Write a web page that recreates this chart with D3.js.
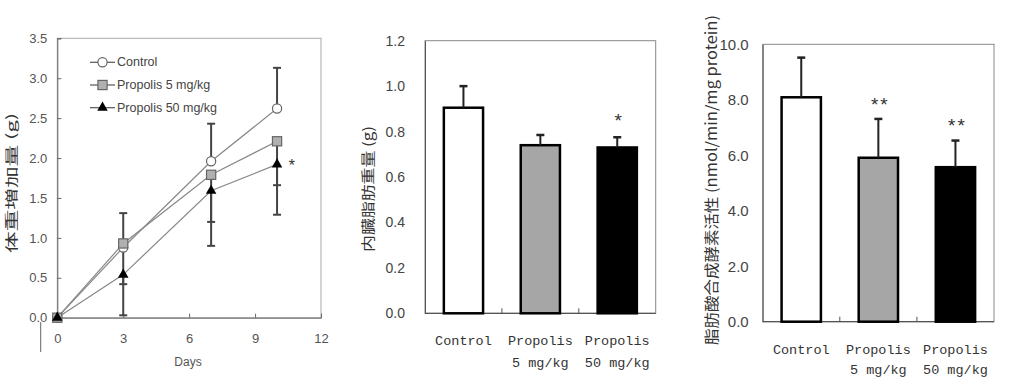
<!DOCTYPE html>
<html>
<head>
<meta charset="utf-8">
<script src="https://cdn.jsdelivr.net/npm/d3@7"></script>
<style>
  body { margin: 0; background: #fff; }
  svg { display: block; }
</style>
</head>
<body>
<svg id="chart" width="1024" height="379" viewBox="0 0 1024 379"></svg>
<script>
// Panel 1: body weight gain
const days = [0, 3, 7, 10];
const controlMean = [0, 0.88, 1.96, 2.62];
const controlErr = [0, 0.43, 0.47, 0.51];
const p5Mean = [0, 0.93, 1.79, 2.21];
const p5Err = [0, 0.51, 0.59, 0.55];
const p50Mean = [0, 0.54, 1.59, 1.92];
const p50Err = [0, 0.51, 0.69, 0.63];
const seriesNames = ["Control", "Propolis 5 mg/kg", "Propolis 50 mg/kg"];
const xTicks1 = [0, 3, 6, 9, 12];
const yTicks1 = [0, 0.5, 1.0, 1.5, 2.0, 2.5, 3.0, 3.5];

// Panels 2 and 3: bars
const groups = ["Control", "Propolis\n5 mg/kg", "Propolis\n50 mg/kg"];
const fatMean = [0.905, 0.74, 0.73];
const fatErr = [0.095, 0.045, 0.045];
const fatSig = ["", "", "*"];
const yTicks2 = [0, 0.2, 0.4, 0.6, 0.8, 1.0, 1.2];
const fasMean = [8.09, 5.91, 5.57];
const fasErr = [1.43, 1.40, 0.96];
const fasSig = ["", "**", "**"];
const yTicks3 = [0, 2, 4, 6, 8, 10];

const svg = d3.select("#chart");
const txt = "#333";
const sans = "Arial, 'Liberation Sans', sans-serif";
const mono = "'Liberation Mono', 'DejaVu Sans Mono', monospace";
const cjk = "'Noto Sans CJK JP', sans-serif";

// rotated, stretched y title
function yTitle(g, text, cx, cy, len, size) {
    g.append("text")
        .attr("transform", `translate(${cx},${cy}) rotate(-90)`)
        .attr("text-anchor", "middle")
        .attr("dominant-baseline", "central")
        .attr("font-family", cjk)
        .attr("font-size", size)
        .attr("fill", txt)
        .attr("textLength", len)
        .attr("lengthAdjust", "spacingAndGlyphs")
        .text(text);
}

// ---------- Panel 1 ----------
{
    const g = svg.append("g");
    const x = d3.scaleLinear().domain([0, 12]).range([57.3, 321]);
    const y = d3.scaleLinear().domain([0, 3.5]).range([317.7, 38.3]);

    g.append("rect")
        .attr("x", x(0)).attr("y", y(3.5))
        .attr("width", x(12) - x(0)).attr("height", y(0) - y(3.5))
        .attr("fill", "none").attr("stroke", "#aaa").attr("stroke-width", 1);

    const ya = g.append("g").attr("transform", `translate(${x(0)},0)`)
        .call(d3.axisLeft(y).tickValues(yTicks1).tickFormat(d3.format(".1f")).tickSize(-4).tickPadding(10));
    const xa = g.append("g").attr("transform", `translate(0,${y(0)})`)
        .call(d3.axisBottom(x).tickValues(xTicks1).tickSize(-4).tickPadding(16));
    [ya, xa].forEach(a => {
        a.select(".domain").attr("stroke", "#666");
        a.selectAll(".tick line").attr("stroke", "#666");
        a.selectAll("text").attr("font-family", sans).attr("font-size", 13).attr("fill", "#555");
    });

    // stray line under the axis
    g.append("line").attr("x1", 40.7).attr("x2", 40.7).attr("y1", 322).attr("y2", 352)
        .attr("stroke", "#666").attr("stroke-width", 1);

    g.append("text").attr("x", 188).attr("y", 366).attr("text-anchor", "middle")
        .attr("font-family", sans).attr("font-size", 12).attr("fill", "#555").text("Days");
    yTitle(g, "体重増加量 (g)", 10, 183, 140, 13);

    const series = [
        { mean: controlMean, err: controlErr, dir: 1, shape: "circle", fill: "#fff" },
        { mean: p5Mean, err: p5Err, dir: -1, shape: "square", fill: "#b0b0b0" },
        { mean: p50Mean, err: p50Err, dir: -1, shape: "triangle", fill: "#000" }
    ];

    // error bars
    series.forEach(s => {
        days.forEach((d, i) => {
            if (!s.err[i]) return;
            const y2 = y(s.mean[i] + s.dir * s.err[i]);
            g.append("line").attr("x1", x(d)).attr("x2", x(d))
                .attr("y1", y(s.mean[i])).attr("y2", y2)
                .attr("stroke", "#444").attr("stroke-width", 2);
            g.append("line").attr("x1", x(d) - 4).attr("x2", x(d) + 4)
                .attr("y1", y2).attr("y2", y2)
                .attr("stroke", "#444").attr("stroke-width", 2);
        });
    });

    const line = d3.line().x((d, i) => x(days[i])).y(d => y(d));
    series.forEach(s => {
        g.append("path").datum(s.mean).attr("d", line)
            .attr("fill", "none").attr("stroke", "#888").attr("stroke-width", 1.2);
    });

    function marker(sel, shape, fill, cx, cy) {
        if (shape === "circle") {
            sel.append("circle").attr("cx", cx).attr("cy", cy).attr("r", 4.6)
                .attr("fill", fill).attr("stroke", "#666").attr("stroke-width", 1.2);
        } else if (shape === "square") {
            sel.append("rect").attr("x", cx - 4.6).attr("y", cy - 4.6).attr("width", 9.2).attr("height", 9.2)
                .attr("fill", fill).attr("stroke", "#666").attr("stroke-width", 1.2);
        } else {
            sel.append("path").attr("transform", `translate(${cx},${cy})`)
                .attr("d", d3.symbol(d3.symbolTriangle, 48)())
                .attr("fill", fill);
        }
    }
    series.forEach(s => {
        days.forEach((d, i) => marker(g, s.shape, s.fill, x(d), y(s.mean[i])));
    });

    g.append("text").attr("x", 291.7).attr("y", 167).attr("text-anchor", "middle")
        .attr("dominant-baseline", "central")
        .attr("font-family", mono).attr("font-size", 16).attr("fill", "#333").text("*");

    // legend
    const legY = [62.3, 85, 107.7];
    series.forEach((s, i) => {
        g.append("line").attr("x1", 90).attr("x2", 115).attr("y1", legY[i]).attr("y2", legY[i])
            .attr("stroke", "#555").attr("stroke-width", 1.2);
        marker(g, s.shape, s.fill, 102.5, legY[i]);
        g.append("text").attr("x", 117).attr("y", legY[i]).attr("dominant-baseline", "central")
            .attr("font-family", sans).attr("font-size", 12.5).attr("fill", "#444")
            .text(seriesNames[i]);
    });
}

// ---------- Bar panels ----------
function barPanel(opt) {
    const g = svg.append("g");
    const x = d3.scaleBand().domain(groups).range([opt.left, opt.right]).paddingInner(0.49).paddingOuter(0.245);
    const y = d3.scaleLinear().domain([0, opt.max]).range([opt.bottom, opt.top]);

    g.append("rect")
        .attr("x", opt.left).attr("y", opt.top)
        .attr("width", opt.right - opt.left).attr("height", opt.bottom - opt.top)
        .attr("fill", "none").attr("stroke", "#888").attr("stroke-width", 1);

    const ya = g.append("g").attr("transform", `translate(${opt.left},0)`)
        .call(d3.axisLeft(y).tickValues(opt.ticks).tickFormat(d3.format(".1f")).tickSize(0).tickPadding(opt.pad));
    ya.select(".domain").attr("stroke", "#555");
    ya.selectAll("text").attr("font-family", sans).attr("font-size", opt.tickSize).attr("fill", "#444");

    // bottom axis with separators between groups
    g.append("line").attr("x1", opt.left).attr("x2", opt.right).attr("y1", opt.bottom).attr("y2", opt.bottom)
        .attr("stroke", "#555").attr("stroke-width", 1.2);
    const step = x.step();
    [1, 2].forEach(k => {
        const sx = opt.left + step * k;
        g.append("line").attr("x1", sx).attr("x2", sx).attr("y1", opt.bottom).attr("y2", opt.bottom - 5)
            .attr("stroke", "#555");
    });

    g.selectAll(".bar").data(groups).join("rect")
        .attr("x", d => x(d)).attr("width", x.bandwidth())
        .attr("y", (d, i) => y(opt.mean[i])).attr("height", (d, i) => y(0) - y(opt.mean[i]))
        .attr("fill", (d, i) => opt.colors[i]).attr("stroke", "#000").attr("stroke-width", 2.5);

    groups.forEach((d, i) => {
        const cx = x(d) + x.bandwidth() / 2;
        const top = y(opt.mean[i] + opt.err[i]);
        g.append("line").attr("x1", cx).attr("x2", cx).attr("y1", y(opt.mean[i])).attr("y2", top)
            .attr("stroke", "#222").attr("stroke-width", 2);
        g.append("line").attr("x1", cx - 4).attr("x2", cx + 4).attr("y1", top).attr("y2", top)
            .attr("stroke", "#222").attr("stroke-width", 2.5);
        if (opt.sig[i]) {
            g.append("text").attr("x", cx).attr("y", opt.sigY[i] + 4).attr("text-anchor", "middle")
                .attr("dominant-baseline", "central")
                .attr("font-family", mono).attr("font-size", 19).attr("fill", "#333")
                .attr("letter-spacing", -2).text(opt.sig[i]);
        }
        d.split("\n").forEach((part, j) => {
            g.append("text").attr("x", cx).attr("y", opt.labelY[j]).attr("text-anchor", "middle")
                .attr("dominant-baseline", "central")
                .attr("font-family", mono).attr("font-size", 13.5).attr("fill", "#333").text(part);
        });
    });

    yTitle(g, opt.title, opt.titleX, opt.titleY, opt.titleLen, opt.titleSize);
}

barPanel({
    left: 425, right: 655.7, top: 40.7, bottom: 313.3, max: 1.2,
    ticks: yTicks2, pad: 20, tickSize: 14,
    mean: fatMean, err: fatErr, sig: fatSig, sigY: [0, 0, 117.7],
    colors: ["#fff", "#a6a6a6", "#000"],
    labelY: [341.7, 363.3],
    title: "内臓脂肪重量 (g)", titleX: 366.5, titleY: 189, titleLen: 126, titleSize: 14
});

barPanel({
    left: 762.7, right: 994, top: 44.3, bottom: 321.7, max: 10,
    ticks: yTicks3, pad: 14, tickSize: 15,
    mean: fasMean, err: fasErr, sig: fasSig, sigY: [0, 101.7, 123.3],
    colors: ["#fff", "#a6a6a6", "#000"],
    labelY: [350, 370],
    title: "脂肪酸合成酵素活性 (nmol/min/mg protein)", titleX: 710, titleY: 180, titleLen: 330, titleSize: 15
});
</script>
</body>
</html>
